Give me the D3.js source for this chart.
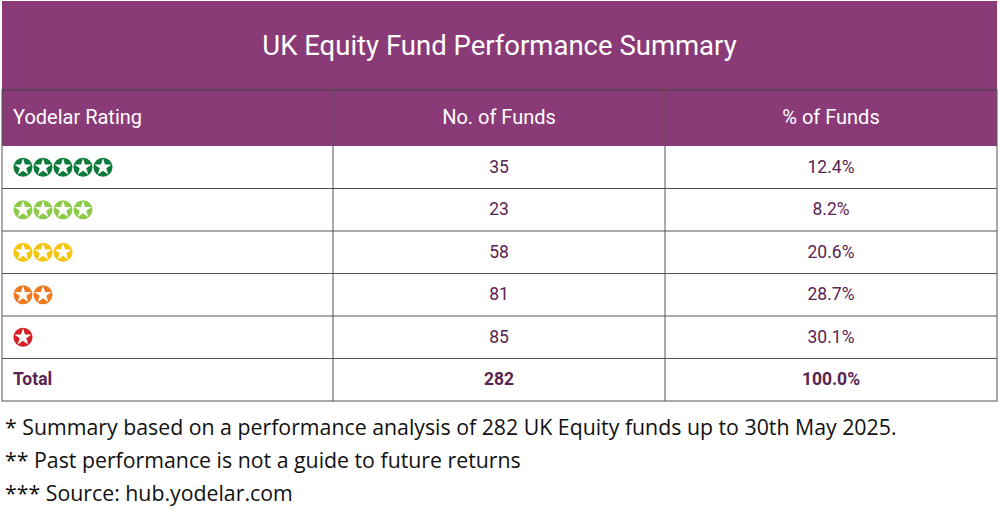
<!DOCTYPE html>
<html><head><meta charset="utf-8">
<script src="https://cdn.jsdelivr.net/npm/d3@7"></script>
<style>body{margin:0;background:#fff}</style>
</head><body>
<svg id="chart" width="1000" height="510"></svg>
<script>
const title = 'UK Equity Fund Performance Summary'
const headers = ['Yodelar Rating', 'No. of Funds', '% of Funds']
const stars = [5, 4, 3, 2, 1]
const starColors = ['#0b7a3b', '#8ccc4a', '#f5c60f', '#f07a22', '#d41f26']
const funds = [35, 23, 58, 81, 85]
const pcts = ['12.4%', '8.2%', '20.6%', '28.7%', '30.1%']
const total = ['Total', '282', '100.0%']
const notes = ['* Summary based on a performance analysis of 282 UK Equity funds up to 30th May 2025.',
    '** Past performance is not a guide to future returns',
    '*** Source: hub.yodelar.com']

const svg = d3.select('#chart')
const purple = '#8b3a78', dark = '#5a2352', font = 'Roboto, sans-serif'
const L = 2, R = 997
const colX = [L, 333, 665, R]
const y = d3.scaleLinear().domain([0, 6]).range([146, 401])
const rowH = y(1) - y(0)

svg.append('rect').attr('x', L).attr('y', 1).attr('width', R - L).attr('height', 145).attr('fill', purple)
svg.append('text').attr('x', (L + R) / 2).attr('y', 48).attr('text-anchor', 'middle').attr('dominant-baseline', 'middle')
    .attr('fill', '#fff').attr('font-family', font).attr('font-size', 27.5).text(title)
svg.append('line').attr('x1', L).attr('x2', R).attr('y1', 90).attr('y2', 90).attr('stroke', '#5e2050').attr('stroke-width', 1)
headers.forEach((h, i) => {
    svg.append('text').attr('x', i == 0 ? 13 : (colX[i] + colX[i + 1]) / 2).attr('y', 119)
        .attr('text-anchor', i == 0 ? 'start' : 'middle').attr('dominant-baseline', 'middle')
        .attr('fill', '#fff').attr('font-family', font).attr('font-size', 20).text(h)
})

// grid
d3.range(1, 6).forEach(i => svg.append('line').attr('x1', L).attr('x2', R).attr('y1', y(i)).attr('y2', y(i)).attr('stroke', '#555'))
svg.append('rect').attr('x', L).attr('y', 90).attr('width', R - L).attr('height', y(6) - 90).attr('fill', 'none').attr('stroke', '#555')
colX.slice(1, 3).forEach(x => svg.append('line').attr('x1', x).attr('x2', x).attr('y1', 90).attr('y2', y(6)).attr('stroke', '#555'))

const starPath = d3.symbol().type(d3.symbolStar).size(90)()
stars.forEach((n, r) => {
    const cy = y(r) + rowH / 2
    d3.range(n).forEach(k => {
        const g = svg.append('g').attr('transform', `translate(${23 + k * 20},${cy})`)
        g.append('circle').attr('r', 9.5).attr('fill', starColors[r])
        g.append('path').attr('d', starPath).attr('fill', '#fff')
    })
    ;[funds[r], pcts[r]].forEach((v, i) => {
        svg.append('text').attr('x', (colX[i + 1] + colX[i + 2]) / 2).attr('y', cy + 1)
            .attr('text-anchor', 'middle').attr('dominant-baseline', 'middle')
            .attr('fill', dark).attr('font-family', font).attr('font-size', 17.5).text(v)
    })
})
total.forEach((v, i) => {
    svg.append('text').attr('x', i == 0 ? 13 : (colX[i] + colX[i + 1]) / 2).attr('y', y(5) + rowH / 2 + 1)
        .attr('text-anchor', i == 0 ? 'start' : 'middle').attr('dominant-baseline', 'middle')
        .attr('fill', dark).attr('font-family', font).attr('font-weight', 'bold').attr('font-size', 17.5).text(v)
})
notes.forEach((t, i) => {
    svg.append('text').attr('x', 5).attr('y', 435 + i * 33).attr('fill', '#111')
        .attr('font-family', 'Open Sans, sans-serif').attr('font-size', 21.3).text(t)
})
</script>
</body></html>
